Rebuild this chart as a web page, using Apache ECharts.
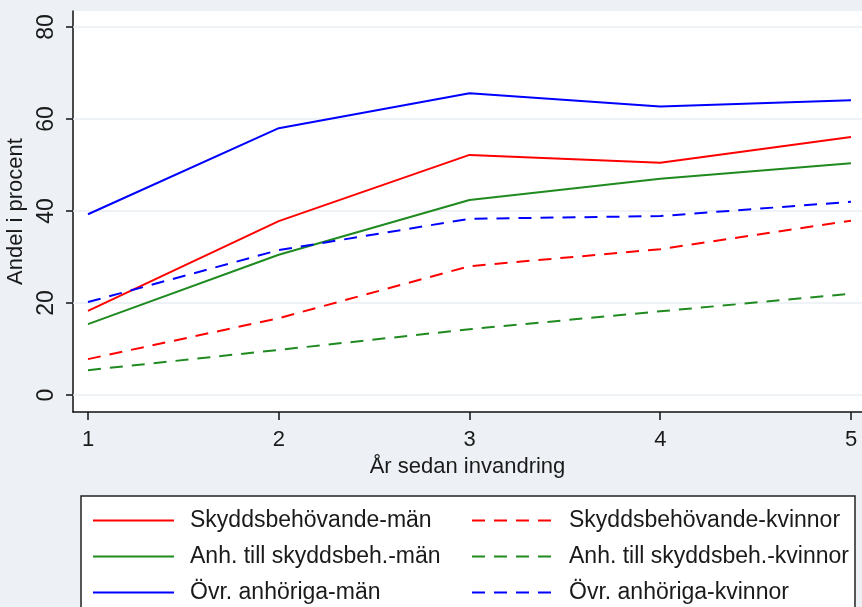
<!DOCTYPE html>
<html><head><meta charset="utf-8">
<script src="https://cdn.jsdelivr.net/npm/echarts@6/dist/echarts.min.js"></script>
<style>html,body{margin:0;padding:0;background:#edf1f6;}#c{width:862px;height:607px;}</style>
</head><body><div id="c"></div>
<script>
const years = [1, 2, 3, 4, 5];
const yTicks = [0, 20, 40, 60, 80];
const skyddMan = [18.3, 37.8, 52.2, 50.5, 56.1];
const skyddKvinnor = [7.8, 16.7, 28.0, 31.7, 37.9];
const anhSkyddMan = [15.4, 30.5, 42.4, 47.0, 50.4];
const anhSkyddKvinnor = [5.4, 9.8, 14.3, 18.2, 22.0];
const ovrMan = [39.3, 58.0, 65.6, 62.7, 64.1];
const ovrKvinnor = [20.2, 31.5, 38.3, 38.9, 42.0];
const names = ['Skyddsbehövande-män','Anh. till skyddsbeh.-män','Övr. anhöriga-män',
  'Skyddsbehövande-kvinnor','Anh. till skyddsbeh.-kvinnor','Övr. anhöriga-kvinnor'];

const RED = '#ff0000', GREEN = '#1f8a1f', BLUE = '#0000ff';
const FONT = '"Liberation Sans", Arial, sans-serif';
const pairs = (arr) => years.map((x, i) => [x, arr[i]]);
function mk(name, arr, color, dashed) {
  return { name, type: 'line', data: pairs(arr), symbol: 'none', showSymbol: false, silent: true,
    lineStyle: { color, width: 2, type: dashed ? [13, 9] : 'solid' },
    itemStyle: { color }, z: 3 };
}
const series = [
  mk(names[0], skyddMan, RED, false),
  mk(names[1], anhSkyddMan, GREEN, false),
  mk(names[2], ovrMan, BLUE, false),
  mk(names[3], skyddKvinnor, RED, true),
  mk(names[4], anhSkyddKvinnor, GREEN, true),
  mk(names[5], ovrKvinnor, BLUE, true)
];
series[0].markLine = { silent: true, symbol: 'none', label: { show: false },
  lineStyle: { color: '#e9edf3', width: 1.5, type: 'solid' }, z: 1,
  data: yTicks.map(v => ({ yAxis: v })) };

const chart = echarts.init(document.getElementById('c'));
function legendText(gap) {
  return { fontFamily: FONT, fontSize: 23, color: '#1a1a1a', padding: [0, 0, 0, gap] };
}
const legendCommon = { orient: 'vertical', top: 509, padding: 0, itemHeight: 12, itemGap: 13, selectedMode: false,
  itemStyle: { opacity: 0 } };
chart.setOption({
  backgroundColor: '#edf1f6',
  animation: false,
  grid: { left: 73, top: 11, right: 0, bottom: 195, show: true, backgroundColor: '#ffffff', borderWidth: 0,
    containLabel: false, outerBoundsMode: 'none' },
  xAxis: {
    type: 'value', min: 0.9214, max: 5.0577,
    name: 'År sedan invandring', nameLocation: 'middle', nameGap: 37,
    nameTextStyle: { fontFamily: FONT, fontSize: 22, color: '#1a1a1a' },
    axisLine: { show: true, onZero: false, lineStyle: { color: '#111', width: 1.5 } },
    axisTick: { show: true, length: 8, customValues: years, lineStyle: { color: '#111', width: 1.5 } },
    axisLabel: { customValues: years, margin: 17, fontFamily: FONT, fontSize: 22, color: '#1a1a1a' },
    splitLine: { show: false }
  },
  yAxis: {
    type: 'value', min: -3.696, max: 83.48,
    name: 'Andel i procent', nameLocation: 'middle', nameGap: 40, nameRotate: 90,
    nameTextStyle: { fontFamily: FONT, fontSize: 22, color: '#1a1a1a' },
    axisLine: { show: true, onZero: false, lineStyle: { color: '#111', width: 1.5 } },
    axisTick: { show: true, length: 7, customValues: yTicks, lineStyle: { color: '#111', width: 1.5 } },
    axisLabel: { customValues: yTicks, rotate: 90, margin: 15, fontFamily: FONT, fontSize: 23, color: '#1a1a1a' },
    splitLine: { show: false }
  },
  graphic: [{ type: 'rect', shape: { x: 81, y: 496, width: 774, height: 200 }, z: -1,
    style: { fill: '#ffffff', stroke: '#222', lineWidth: 1.5 } }],
  legend: [
    Object.assign({ left: 92, itemWidth: 81, data: names.slice(0, 3), textStyle: legendText(11) }, legendCommon),
    Object.assign({ left: 471, itemWidth: 84, data: names.slice(3), textStyle: legendText(8) }, legendCommon)
  ],
  series
});
</script></body></html>
